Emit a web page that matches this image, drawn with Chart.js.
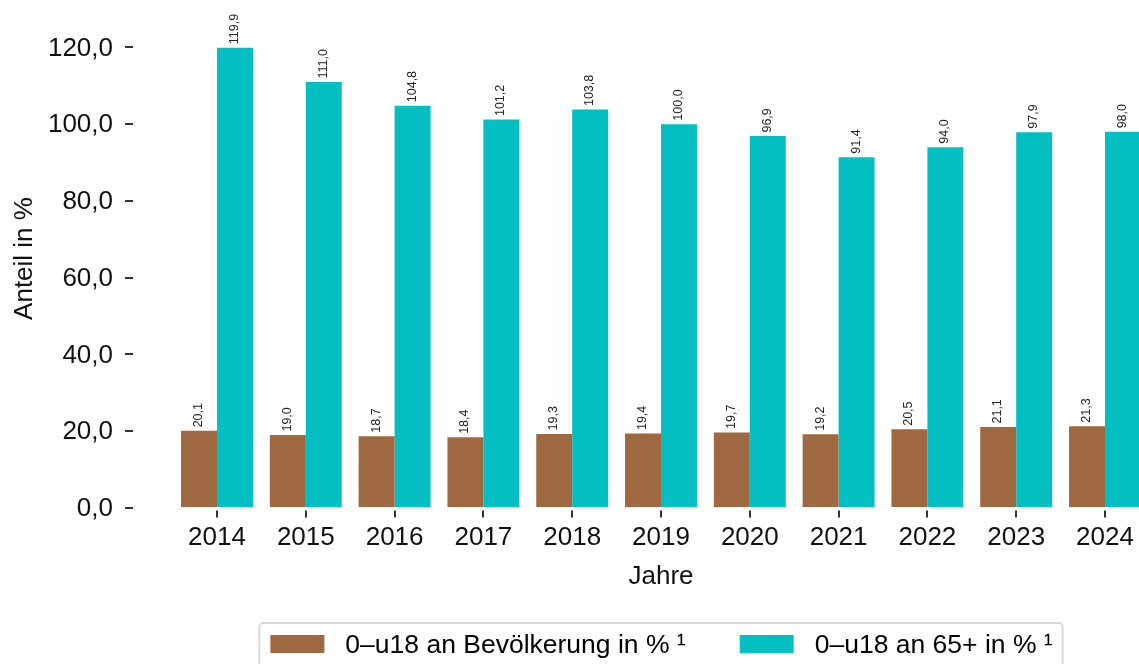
<!DOCTYPE html>
<html><head><meta charset="utf-8">
<script src="https://cdn.jsdelivr.net/npm/chart.js@4/dist/chart.umd.min.js"></script>
<style>
html,body{margin:0;padding:0;overflow:hidden;background:#fff;width:1139px;height:664px}
#wrap{position:relative;width:1190px;height:664px}
</style>
</head><body>
<div id="wrap"><canvas id="c" width="1190" height="664"></canvas></div>
<script>
const years = ['2014','2015','2016','2017','2018','2019','2020','2021','2022','2023','2024'];
const shareOfPopulation = [20.1, 19.0, 18.7, 18.4, 19.3, 19.4, 19.7, 19.2, 20.5, 21.1, 21.3];
const ratioTo65Plus = [119.9, 111.0, 104.8, 101.2, 103.8, 100.0, 96.9, 91.4, 94.0, 97.9, 98.0];
const seriesLabels = ['0–u18 an Bevölkerung in % ¹', '0–u18 an 65+ in % ¹'];
const seriesColors = ['#9E6840', '#03BFC1'];
const yTickValues = [0, 20, 40, 60, 80, 100, 120];

const fmt = v => Number(v).toFixed(1).replace('.', ',');
const FONT = '"Liberation Sans", Arial, Helvetica, sans-serif';
Chart.defaults.font.family = FONT;

const valueLabels = {
  id: 'valueLabels',
  afterDatasetsDraw(chart) {
    const ctx = chart.ctx;
    ctx.save();
    ctx.font = '12.5px ' + FONT;
    ctx.fillStyle = '#222';
    ctx.textAlign = 'left';
    ctx.textBaseline = 'middle';
    chart.data.datasets.forEach((ds, di) => {
      const meta = chart.getDatasetMeta(di);
      meta.data.forEach((el, i) => {
        ctx.save();
        ctx.translate(el.x - 0.5, el.y - 3.5);
        ctx.rotate(-Math.PI / 2);
        ctx.fillText(fmt(ds.data[i].y), 0, 0);
        ctx.restore();
      });
    });
    ctx.restore();
  }
};

const xTickMarks = {
  id: 'xTickMarks',
  afterDraw(chart) {
    const ctx = chart.ctx, ca = chart.chartArea, xs = chart.scales.x;
    ctx.save();
    ctx.strokeStyle = '#333';
    ctx.lineWidth = 2;
    xs.ticks.forEach((t, i) => {
      const px = Math.round(xs.getPixelForTick(i));
      ctx.beginPath();
      ctx.moveTo(px, ca.bottom + 2.5);
      ctx.lineTo(px, ca.bottom + 9.5);
      ctx.stroke();
    });
    ctx.restore();
  }
};

const boxedLegend = {
  id: 'boxedLegend',
  afterDraw(chart) {
    const ctx = chart.ctx, ca = chart.chartArea;
    ctx.save();
    ctx.font = '26.5px ' + FONT;
    const items = chart.data.datasets.map(ds => ({text: ds.label, color: ds.backgroundColor, w: ctx.measureText(ds.label).width}));
    const padL = 11, padR = 10, box = 54, boxH = 18, gap = 21, itemGap = 54;
    const total = padL + padR + items.reduce((s, it) => s + box + gap + it.w, 0) + itemGap * (items.length - 1);
    const cx = (ca.left + ca.right) / 2;
    const x0 = cx - total / 2;
    const top = ca.bottom + 115;
    const r = 4, h = 90;
    ctx.strokeStyle = '#d9d9d9';
    ctx.lineWidth = 2;
    ctx.beginPath();
    ctx.moveTo(x0 + r, top);
    ctx.lineTo(x0 + total - r, top);
    ctx.arcTo(x0 + total, top, x0 + total, top + r, r);
    ctx.lineTo(x0 + total, top + h);
    ctx.lineTo(x0, top + h);
    ctx.lineTo(x0, top + r);
    ctx.arcTo(x0, top, x0 + r, top, r);
    ctx.closePath();
    ctx.stroke();
    let x = x0 + padL;
    items.forEach(it => {
      ctx.fillStyle = it.color;
      ctx.fillRect(x, ca.bottom + 127, box, boxH);
      x += box + gap;
      ctx.fillStyle = '#000';
      ctx.textAlign = 'left';
      ctx.textBaseline = 'alphabetic';
      ctx.fillText(it.text, x, ca.bottom + 145);
      x += it.w + itemGap;
    });
    ctx.restore();
  }
};

const toPoints = vals => years.map((_, i) => ({x: i, y: vals[i]}));

new Chart(document.getElementById('c'), {
  type: 'bar',
  data: {
    datasets: [
      {label: seriesLabels[0], data: toPoints(shareOfPopulation), backgroundColor: seriesColors[0], borderWidth: 0},
      {label: seriesLabels[1], data: toPoints(ratioTo65Plus), backgroundColor: seriesColors[1], borderWidth: 0}
    ]
  },
  options: {
    responsive: false,
    animation: false,
    devicePixelRatio: 1,
    categoryPercentage: 0.81,
    barPercentage: 1.0,
    layout: {padding: {left: 9, top: 9, right: 1, bottom: 72}},
    plugins: {legend: {display: false}, tooltip: {enabled: false}},
    scales: {
      x: {
        type: 'linear',
        min: -0.946, max: 10.946,
        offset: false,
        afterBuildTicks: s => { s.ticks = years.map((_, i) => ({value: i})); },
        afterFit: s => { s.height = 84; s.paddingLeft = 0; s.paddingRight = 0; },
        ticks: {callback: v => years[Math.round(v)], font: {size: 26}, color: '#111', padding: 6, maxRotation: 0, autoSkip: false},
        grid: {offset: false, drawOnChartArea: false, drawTicks: true, tickLength: 8, color: 'rgba(0,0,0,0)', lineWidth: 2},
        border: {display: false},
        title: {display: true, text: 'Jahre', font: {size: 26}, color: '#111', padding: {top: 9, bottom: 0}}
      },
      y: {
        min: 0, max: 130,
        afterBuildTicks: s => { s.ticks = yTickValues.map(v => ({value: v})); },
        afterFit: s => { s.width = 124; s.paddingTop = 0; s.paddingBottom = 0; },
        ticks: {callback: v => fmt(v), font: {size: 26}, color: '#111', padding: 12, labelOffset: 1},
        grid: {drawOnChartArea: false, drawTicks: true, tickLength: 8, color: '#333', lineWidth: 2},
        border: {display: false},
        title: {display: true, text: 'Anteil in %', font: {size: 26}, color: '#111', padding: {top: 0, bottom: 0}}
      }
    }
  },
  plugins: [valueLabels, xTickMarks, boxedLegend]
});
</script>
</body></html>
